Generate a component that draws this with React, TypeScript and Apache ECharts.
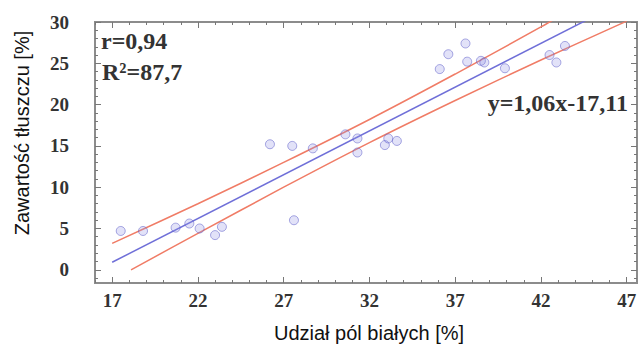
import React, { useEffect, useRef } from "react";
import * as echarts from "echarts";

// Tick labels
const xTickValues = [17, 22, 27, 32, 37, 42, 47];
const yTickValues = [0, 5, 10, 15, 20, 25, 30];
const xMinorTicks = [16, 17, 18, 19, 20, 21, 22, 23, 24, 25, 26, 27, 28, 29, 30, 31, 32, 33, 34, 35, 36, 37, 38, 39, 40, 41, 42, 43, 44, 45, 46, 47];
const yMinorTicks = [-1, 0, 1, 2, 3, 4, 5, 6, 7, 8, 9, 10, 11, 12, 13, 14, 15, 16, 17, 18, 19, 20, 21, 22, 23, 24, 25, 26, 27, 28, 29, 30];

// Observations: share of white fields [%] vs fat content [%]
const whiteShare = [17.5, 18.8, 20.7, 21.5, 22.1, 23.0, 23.4, 26.2, 27.5, 27.6, 28.7, 30.6, 31.3, 31.3, 32.9, 33.1, 33.6, 36.1, 36.6, 37.6, 37.7, 38.5, 38.7, 39.9, 42.5, 42.9, 43.4];
const fatContent = [4.7, 4.7, 5.1, 5.6, 5.0, 4.2, 5.2, 15.2, 15.0, 6.0, 14.7, 16.4, 15.9, 14.2, 15.1, 15.9, 15.6, 24.3, 26.1, 27.4, 25.2, 25.3, 25.1, 24.4, 26.0, 25.1, 27.1];

// Regression line y = 1,06x - 17,11 (end points)
const fitX = [17, 47];
const fitY = [0.91, 32.71];

// Confidence band
const upperX = [17, 22, 27, 32, 37, 42, 43];
const upperY = [3.2, 8.0, 13.0, 18.2, 23.7, 29.4, 30.6];
const lowerX = [18.1, 22, 27, 32, 37, 42, 47];
const lowerY = [0.0, 4.4, 10.0, 15.4, 20.5, 25.4, 30.1];

const labelR = "r=0,94";
const labelR2 = "R²=87,7";
const labelEq = "y=1,06x-17,11";
const xTitle = "Udział pól białych [%]";
const yTitle = "Zawartość tłuszczu [%]";

const zip = (a: number[], b: number[]) => a.map((v, i) => [v, b[i]]);

const X_MIN = 16;
const X_MAX = 47.6;
const Y_MIN = -1.6;
const Y_MAX = 30;

const tickFont = {
  fontFamily: "'Liberation Serif', serif",
  fontWeight: "bold" as const,
  fontSize: 19,
  color: "#333333",
};

function xAxisCfg(position: "bottom" | "top", major: boolean, labels: boolean) {
  return {
    type: "value",
    min: X_MIN,
    max: X_MAX,
    position,
    axisLine: { show: false, onZero: false },
    splitLine: { show: false },
    axisTick: {
      show: true,
      inside: true,
      length: major ? 6 : 3,
      customValues: major ? xTickValues : xMinorTicks,
      lineStyle: { color: "#777777", width: 1 },
    },
    axisLabel: labels
      ? { show: true, customValues: xTickValues, margin: 8, ...tickFont }
      : { show: false },
  };
}

function yAxisCfg(position: "left" | "right", major: boolean, labels: boolean) {
  return {
    type: "value",
    min: Y_MIN,
    max: Y_MAX,
    position,
    axisLine: { show: false, onZero: false },
    splitLine: { show: false },
    axisTick: {
      show: true,
      inside: true,
      length: major ? 6 : 3,
      customValues: major ? yTickValues : yMinorTicks,
      lineStyle: { color: "#777777", width: 1 },
    },
    axisLabel: labels
      ? { show: true, customValues: yTickValues, margin: 26, ...tickFont }
      : { show: false },
  };
}

export default function App() {
  const ref = useRef<HTMLDivElement>(null);

  useEffect(() => {
    if (!ref.current) return;
    const chart = echarts.init(ref.current, null, { renderer: "svg" });
    const annFont = "bold 24px 'Liberation Serif', serif";
    chart.setOption({
      animation: false,
      backgroundColor: "#ffffff",
      grid: {
        left: 95,
        right: 5,
        top: 22,
        bottom: 62,
        show: true,
        borderColor: "#8c8c8c",
        borderWidth: 2,
        backgroundColor: "transparent",
      },
      xAxis: [
        xAxisCfg("bottom", true, true),
        xAxisCfg("bottom", false, false),
        xAxisCfg("top", true, false),
        xAxisCfg("top", false, false),
      ],
      yAxis: [
        yAxisCfg("left", true, true),
        yAxisCfg("left", false, false),
        yAxisCfg("right", true, false),
        yAxisCfg("right", false, false),
      ],
      series: [
        {
          type: "line",
          data: zip(upperX, upperY),
          showSymbol: false,
          smooth: 0.3,
          lineStyle: { color: "#f07c66", width: 1.5 },
          z: 2,
        },
        {
          type: "line",
          data: zip(lowerX, lowerY),
          showSymbol: false,
          smooth: 0.3,
          lineStyle: { color: "#f07c66", width: 1.5 },
          z: 2,
        },
        {
          type: "line",
          data: zip(fitX, fitY),
          showSymbol: false,
          lineStyle: { color: "#6f6fd8", width: 1.5 },
          z: 3,
        },
        {
          type: "scatter",
          data: zip(whiteShare, fatContent),
          symbol: "circle",
          symbolSize: 9,
          itemStyle: {
            color: "rgba(150,150,230,0.35)",
            borderColor: "rgba(90,90,200,0.65)",
            borderWidth: 1,
          },
          z: 4,
        },
      ],
      graphic: [
        {
          type: "text",
          x: 101,
          y: 41,
          style: { text: labelR, font: annFont, fill: "#333333", align: "left", verticalAlign: "middle" },
        },
        {
          type: "text",
          x: 102,
          y: 72,
          style: { text: labelR2, font: annFont, fill: "#333333", align: "left", verticalAlign: "middle" },
        },
        {
          type: "text",
          x: 628,
          y: 103,
          style: { text: labelEq, font: annFont, fill: "#333333", align: "right", verticalAlign: "middle" },
        },
        {
          type: "text",
          x: 369,
          y: 333,
          style: {
            text: xTitle,
            font: "20px 'Liberation Sans', Arial, sans-serif",
            fill: "#111111",
            align: "center",
            verticalAlign: "middle",
          },
        },
        {
          type: "text",
          x: 22,
          y: 133,
          rotation: Math.PI / 2,
          style: {
            text: yTitle,
            font: "20px 'Liberation Sans', Arial, sans-serif",
            fill: "#111111",
            align: "center",
            verticalAlign: "middle",
          },
        },
      ],
    });
    return () => chart.dispose();
  }, []);

  return (
    <div
      ref={ref}
      style={{ position: "absolute", left: 0, top: 0, width: 642, height: 345 }}
    />
  );
}
